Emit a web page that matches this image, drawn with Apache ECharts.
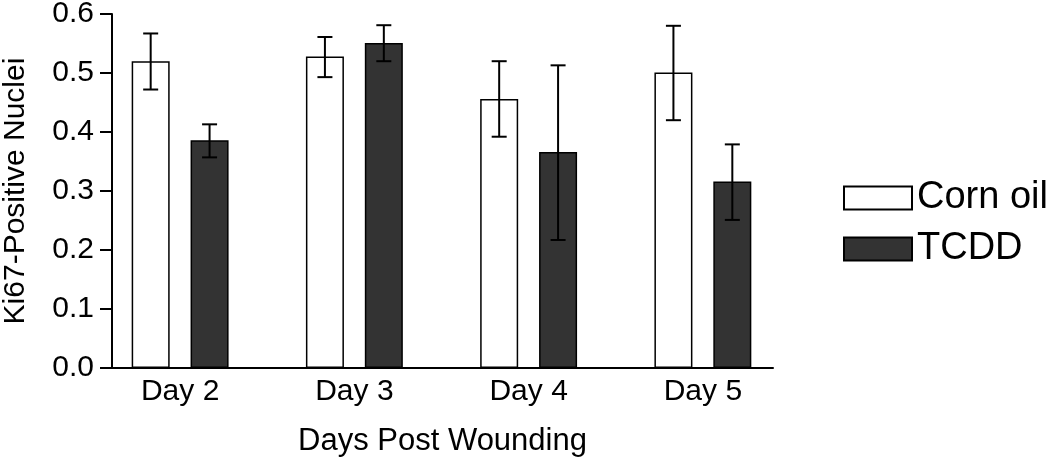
<!DOCTYPE html>
<html>
<head>
<meta charset="utf-8">
<script src="https://cdn.jsdelivr.net/npm/echarts@6/dist/echarts.min.js"></script>
<style>
html,body{margin:0;padding:0;background:#fff;}
#chart{width:1050px;height:461px;}
</style>
</head>
<body>
<div id="chart"></div>
<script>
const categories = ['Day 2', 'Day 3', 'Day 4', 'Day 5'];
const cornOil = [0.520, 0.528, 0.456, 0.501];
const cornOilLow = [0.472, 0.493, 0.392, 0.420];
const cornOilHigh = [0.567, 0.561, 0.520, 0.580];
const tcdd = [0.386, 0.551, 0.366, 0.316];
const tcddLow = [0.357, 0.520, 0.217, 0.251];
const tcddHigh = [0.413, 0.581, 0.513, 0.379];
const yTicks = [0, 0.1, 0.2, 0.3, 0.4, 0.5, 0.6];

const FONT = 'Liberation Sans, Arial, sans-serif';
const BAR_W = 38;
const BAR_GAP = 0.55;
const HALF_SPREAD = (BAR_W + BAR_W * BAR_GAP) / 2;

function errData(low, high) {
  return categories.map((c, i) => [i, low[i], high[i]]);
}
function makeErr(offset) {
  return function (params, api) {
    const i = api.value(0);
    const lo = api.coord([i, api.value(1)]);
    const hi = api.coord([i, api.value(2)]);
    const x = lo[0] + offset;
    const cap = 7.5;
    const style = { stroke: '#000', lineWidth: 2 };
    return {
      type: 'group',
      children: [
        { type: 'line', shape: { x1: x, y1: lo[1], x2: x, y2: hi[1] }, style },
        { type: 'line', shape: { x1: x - cap, y1: lo[1], x2: x + cap, y2: lo[1] }, style },
        { type: 'line', shape: { x1: x - cap, y1: hi[1], x2: x + cap, y2: hi[1] }, style }
      ]
    };
  };
}

const chart = echarts.init(document.getElementById('chart'), null, { renderer: 'canvas' });
chart.setOption({
  animation: false,
  backgroundColor: '#fff',
  textStyle: { fontFamily: FONT, color: '#000' },
  grid: [
    { left: 112, right: 277, top: 14, bottom: 93, containLabel: false, outerBoundsMode: 'none' },
    { left: 93, right: 260, top: 14, bottom: 93, containLabel: false, outerBoundsMode: 'none' }
  ],
  legend: {
    orient: 'vertical',
    left: 838,
    top: 174,
    icon: 'rect',
    itemWidth: 68,
    itemHeight: 23,
    itemGap: 13,
    textStyle: { fontFamily: FONT, fontSize: 38, color: '#000' },
    data: ['Corn oil', 'TCDD']
  },
  xAxis: [
    {
      gridIndex: 0, type: 'category', data: categories,
      axisLine: { lineStyle: { color: '#000', width: 2 } },
      axisTick: { show: false }, axisLabel: { show: false },
      name: 'Days Post Wounding', nameLocation: 'middle', nameGap: 58,
      nameTextStyle: { fontFamily: FONT, fontSize: 31, color: '#000' }
    },
    {
      gridIndex: 1, type: 'category', data: categories,
      axisLine: { show: false }, axisTick: { show: false },
      axisLabel: { fontFamily: FONT, fontSize: 30, color: '#000', margin: 9 }
    }
  ],
  yAxis: [
    {
      gridIndex: 0, type: 'value', min: 0, max: 0.6, interval: 0.1,
      axisLine: { show: true, lineStyle: { color: '#000', width: 2 } },
      axisTick: { show: true, length: 12, lineStyle: { color: '#000', width: 2 } },
      axisLabel: { fontFamily: FONT, fontSize: 30, color: '#000', margin: 18,
        formatter: v => v.toFixed(1) },
      splitLine: { show: false },
      name: 'Ki67-Positive Nuclei', nameLocation: 'middle', nameGap: 81,
      nameTextStyle: { fontFamily: FONT, fontSize: 30, color: '#000' }
    },
    { gridIndex: 1, type: 'value', min: 0, max: 0.6, show: false, splitLine: { show: false } }
  ],
  series: [
    {
      name: 'Corn oil', type: 'bar', xAxisIndex: 1, yAxisIndex: 1,
      data: cornOil, barWidth: BAR_W, barGap: (BAR_GAP * 100) + '%',
      itemStyle: { color: '#ffffff', borderColor: '#000', borderWidth: 1.5 }
    },
    {
      name: 'TCDD', type: 'bar', xAxisIndex: 1, yAxisIndex: 1,
      data: tcdd, barWidth: BAR_W, barGap: (BAR_GAP * 100) + '%',
      itemStyle: { color: '#333333', borderColor: '#000', borderWidth: 1.5 }
    },
    {
      type: 'custom', xAxisIndex: 1, yAxisIndex: 1, z: 10,
      renderItem: makeErr(-HALF_SPREAD), data: errData(cornOilLow, cornOilHigh)
    },
    {
      type: 'custom', xAxisIndex: 1, yAxisIndex: 1, z: 10,
      renderItem: makeErr(HALF_SPREAD), data: errData(tcddLow, tcddHigh)
    }
  ]
});
</script>
</body>
</html>
